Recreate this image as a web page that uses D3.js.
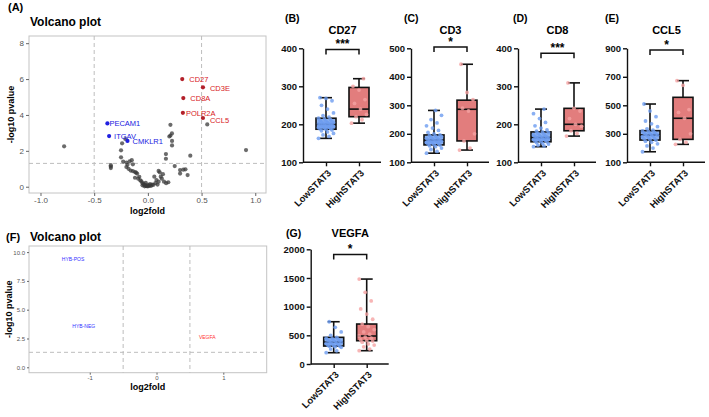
<!DOCTYPE html>
<html><head><meta charset="utf-8">
<script src="https://cdn.jsdelivr.net/npm/d3@7"></script>
<style>body{margin:0;background:#fff} text{font-family:"Liberation Sans",Arial,sans-serif}</style>
</head><body><svg id="c" width="709" height="417"></svg>
<script>
// ---------------- DATA ----------------
// Volcano (A): highlighted genes
const upGenes = ["CD27","CD3E","CD8A","POLR2A","CCL5"];
const upFC    = [0.32, 0.513, 0.33, 0.326, 0.513];
const upP     = [6.0, 5.54, 4.94, 4.12, 3.83];
const downGenes = ["PECAM1","ITGAV","CMKLR1"];
const downFC    = [-0.377, -0.361, -0.19];
const downP     = [3.53, 2.82, 2.55];
// grey (unlabeled) genes: [log2fold, -log10 p]
const greyGenes = [
 [-0.78,2.25],[0.553,3.47],[0.914,2.04],
 [0.21,3.45],[0.224,2.97],[0.21,2.85],[0.2,2.8],[0.225,2.55],[0.225,2.3],[0.168,1.82],[0.168,1.56],
 [0.25,1.15],[0.30,0.93],[0.30,0.73],[0.395,1.73],[0.35,0.97],[0.33,0.95],[0.37,0.65],
 [-0.24,2.42],[-0.25,2.03],[-0.25,1.64],[-0.345,1.2],[-0.345,1.12],[-0.345,1.04],[-0.21,2.66],
 [-0.23,1.4],[-0.2,1.35],[-0.19,1.22],[-0.17,1.42],[-0.15,1.48],[-0.14,1.25],[-0.14,0.87],
 [-0.12,0.82],[-0.11,0.78],[-0.1,0.73],[-0.16,0.9],[-0.2,1.1],[-0.18,1.0],[-0.08,0.55],
 [-0.09,0.45],[-0.07,0.35],[-0.06,0.3],[-0.05,0.2],[-0.04,0.15],[-0.03,0.1],[-0.02,0.05],
 [-0.01,0.03],[0,0.02],[0.01,0.04],[0.02,0.08],[0.03,0.05],[0.04,0.12],[0.05,0.1],[-0.05,0.08],
 [-0.03,0.02],[0.0,0.1],[0.02,0.15],[-0.02,0.22],[0.06,0.56],[0.08,0.37],[0.1,0.88],[0.11,0.8],
 [0.12,0.56],[0.1,0.28],[0.15,0.28],[0.17,0.2],[0.13,0.45],[0.14,0.7],[0.07,0.2],[0.09,0.12],
 [-0.12,0.5],[0.19,0.25]
];
const volcAxTicksX = [-1.0,-0.5,0.0,0.5,1.0];
const volcAxTicksY = [0,2,4,6,8];

// Volcano (F)
const fGenes = ["HYB-POS","HYB-NEG","VEGFA"];
const fFC    = [-1.25, -1.09, 0.76];
const fP     = [9.4, 3.6, 2.57];
const fDir   = ["down","down","up"];
const volcFTicksX = [-1,0,1];
const volcFTicksY = [0,2.5,5,7.5,10];

// Box plots
const groups = ["LowSTAT3","HighSTAT3"];
const boxGenes = ["CD27","CD3","CD8","CCL5","VEGFA"];
const boxTags  = ["(B)","(C)","(D)","(E)","(G)"];
const sigStars = ["***","*","***","*","*"];
const bracketVals = [397, 505, 387, 888, 1911];
const ticksCD27 = [100,200,300,400];
const ticksCD3  = [100,200,300,400,500];
const ticksCD8  = [100,200,300,400];
const ticksCCL5 = [100,300,500,700,900];
const ticksVEGFA= [0,500,1000,1500,2000];
// [min, q1, median, q3, max] per group (Low, High)
const statsCD27 = [[163,187,200,216,270],[203,220,240,297,320]];
const statsCD3  = [[132,161,178,196,282],[143,175,286,318,444]];
const statsCD8  = [[141,154,165,180,240],[169,183,200,242,309]];
const statsCCL5 = [[174,256,292,322,509],[226,261,409,556,673]];
const statsVEGFA= [[197,313,380,465,737],[232,406,488,697,1481]];
// individual samples
const ptsCD27 = [
 [163,168,172,176,180,183,185,187,188,189,190,191,192,193,194,195,196,197,198,199,200,200,201,202,203,204,205,206,207,208,210,212,214,216,219,223,230,240,250,262,268,270],
 [203,212,220,226,240,255,265,290,300,320]];
const ptsCD3 = [
 [132,138,145,150,155,158,160,162,164,166,168,170,171,172,174,175,176,177,178,179,180,182,184,186,188,190,192,194,196,200,205,212,220,228,238,250,265,282],
 [143,150,175,200,280,290,320,345,444]];
const ptsCD8 = [
 [141,143,145,148,150,152,154,155,156,158,159,160,161,162,163,164,165,166,167,168,169,170,172,174,176,178,180,182,185,190,196,205,215,228,240],
 [169,176,183,195,200,215,235,242,309]];
const ptsCCL5 = [
 [174,200,215,230,240,248,255,260,265,270,275,280,285,288,290,292,295,298,300,305,310,315,320,325,335,350,370,390,420,460,509],
 [226,240,261,300,409,450,470,640,673]];
const ptsVEGFA = [
 [197,230,260,290,300,310,315,320,330,340,350,360,370,375,380,385,390,400,410,420,430,440,450,465,500,560,640,737],
 [232,260,300,330,350,380,400,406,420,450,470,488,520,560,600,650,697,780,870,960,1100,1250,1481]];

// ---------------- DRAW ----------------
const svg = d3.select("#c");
svg.append("rect").attr("width",709).attr("height",417).attr("fill","#fff");
const RED="#d7191c", BLUE="#2020e0";

function volcano(o){
  const g = svg.append("g");
  const x = d3.scaleLinear().domain(o.xd).range([o.x0,o.x1]);
  const y = d3.scaleLinear().domain(o.yd).range([o.y1,o.y0]);
  g.append("rect").attr("x",o.x0).attr("y",o.y0).attr("width",o.x1-o.x0).attr("height",o.y1-o.y0)
   .attr("fill","none").attr("stroke","#c4c4c4").attr("stroke-width",1);
  const dash = (x1,y1,x2,y2)=>g.append("line").attr("x1",x1).attr("y1",y1).attr("x2",x2).attr("y2",y2)
   .attr("stroke","#bdbdbd").attr("stroke-width",1).attr("stroke-dasharray","4,3");
  dash(x(-0.5),o.y0,x(-0.5),o.y1); dash(x(0.5),o.y0,x(0.5),o.y1); dash(o.x0,y(1.3),o.x1,y(1.3));
  const ax = g.append("g").attr("transform",`translate(0,${o.y1})`)
    .call(d3.axisBottom(x).tickValues(o.tx).tickSize(o.tks).tickPadding(1.5).tickFormat(o.fx));
  const ay = g.append("g").attr("transform",`translate(${o.x0},0)`)
    .call(d3.axisLeft(y).tickValues(o.ty).tickSize(o.tks).tickPadding(2).tickFormat(o.fy));
  [ax,ay].forEach(a=>{a.select(".domain").remove();
    a.selectAll("line").attr("stroke","#666");
    a.selectAll("text").attr("fill","#555").style("font-size",o.tfs+"px").style("font-family","Liberation Sans, Arial");});
  g.append("text").attr("x",(o.x0+o.x1)/2).attr("y",o.xlabY).attr("text-anchor","middle")
   .style("font-weight","bold").style("font-size",o.lfs+"px").text("log2fold");
  g.append("text").attr("transform",`translate(${o.ylabX},${(o.y0+o.y1)/2}) rotate(-90)`).attr("text-anchor","middle")
   .style("font-weight","bold").style("font-size",o.lfs+"px").text("-log10 pvalue");
  g.append("text").attr("x",o.titleX).attr("y",o.titleY).style("font-weight","bold").style("font-size","12px").text("Volcano plot");
  g.append("text").attr("x",o.tagX).attr("y",o.titleY-o.tagDy).style("font-weight","bold").style("font-size","11px").text(o.tag);
  return {g,x,y};
}

// Panel A
const A = volcano({x0:29,x1:266,y0:36,y1:193,xd:[-1.107,1.10],yd:[-0.35,8.4],
  tx:volcAxTicksX,ty:volcAxTicksY,fx:d=>d.toFixed(1),fy:d=>d,tfs:8,tks:3,lfs:9,xlabY:214,ylabX:14,
  titleX:30,titleY:26,tagX:8,tagDy:15,tag:"(A)"});
A.g.selectAll(".grey").data(greyGenes).join("circle")
  .attr("cx",d=>A.x(d[0])).attr("cy",d=>A.y(d[1])).attr("r",2.1).attr("fill","#3a3a3a").attr("fill-opacity",0.75);
const upLab = [[7,1],[7,1],[7,1],[3,1],[7,3]];
upGenes.forEach((gname,i)=>{
  A.g.append("circle").attr("cx",A.x(upFC[i])).attr("cy",A.y(upP[i])).attr("r",2.1).attr("fill","#b3202a");
  A.g.append("text").attr("x",A.x(upFC[i])+upLab[i][0]).attr("y",A.y(upP[i])+upLab[i][1]).attr("dy","0.32em")
   .attr("fill",RED).style("font-size","7.5px").text(gname);
});
const dnLab = [[2,0],[5,0],[5,1]];
downGenes.forEach((gname,i)=>{
  A.g.append("circle").attr("cx",A.x(downFC[i])).attr("cy",A.y(downP[i])).attr("r",2.1).attr("fill",BLUE);
  A.g.append("text").attr("x",A.x(downFC[i])+dnLab[i][0]).attr("y",A.y(downP[i])+dnLab[i][1]).attr("dy","0.32em")
   .attr("fill",BLUE).style("font-size","7.5px").text(gname);
});

// Panel F
const F = volcano({x0:29,x1:266.7,y0:246,y1:372.7,xd:[-1.91,1.65],yd:[-0.47,10.53],
  tx:volcFTicksX,ty:volcFTicksY,fx:d=>d,fy:d=>d.toFixed(1),tfs:6,tks:2,lfs:9,xlabY:390,ylabX:12,
  titleX:30,titleY:241,tagX:6,tagDy:0,tag:"(F)"});
fGenes.forEach((gname,i)=>{
  F.g.append("text").attr("x",F.x(fFC[i])).attr("y",F.y(fP[i])).attr("dy","0.35em").attr("text-anchor","middle")
   .attr("fill",fDir[i]==="up"?"#ff3030":"#3030ff").style("font-size","5px").text(gname);
});

// Box panels
const boxLayout = [
  {axisX:303, top:48.3, bottom:162.3, tagX:285, tagY:22, titleY:34},
  {axisX:411, top:48.3, bottom:162.3, tagX:404, tagY:22, titleY:34},
  {axisX:518, top:48.3, bottom:162.3, tagX:513, tagY:22, titleY:34},
  {axisX:627, top:48.3, bottom:162.3, tagX:605, tagY:22, titleY:34},
  {axisX:310.7, top:249.3, bottom:364, tagX:286, tagY:237, titleY:237}
];
const allTicks = [ticksCD27,ticksCD3,ticksCD8,ticksCCL5,ticksVEGFA];
const allStats = [statsCD27,statsCD3,statsCD8,statsCCL5,statsVEGFA];
const allPts   = [ptsCD27,ptsCD3,ptsCD8,ptsCCL5,ptsVEGFA];
const fills = ["#8fb3ee","#e27d7d"], ptCols = ["#6d9cf0","#f5a3a3"];

boxGenes.forEach((gene,k)=>{
  const L = boxLayout[k], t = allTicks[k];
  const g = svg.append("g");
  const y = d3.scaleLinear().domain([t[0],t[t.length-1]]).range([L.bottom,L.top]);
  const x = d3.scalePoint().domain(groups).range([L.axisX+23,L.axisX+56]);
  const ay = g.append("g").attr("transform",`translate(${L.axisX},0)`)
    .call(d3.axisLeft(y).tickValues(t).tickSize(4).tickSizeOuter(0).tickFormat(d=>String(d)));
  const ax = g.append("g").attr("transform",`translate(0,${L.bottom})`).call(d3.axisBottom(x).tickSize(4).tickSizeOuter(0));
  ax.select(".domain").attr("d",`M${L.axisX},0H${L.axisX+78}`);
  [ax,ay].forEach(a=>{a.selectAll("path,line").attr("stroke","#111").attr("stroke-width",1.4);
    a.selectAll("text").attr("fill","#111").style("font-size","9.5px").style("font-weight","bold").style("font-family","Liberation Sans, Arial");});
  ay.selectAll("text").attr("x",-6);
  ax.selectAll("text").attr("text-anchor","end").attr("dy","0.35em").attr("y",0)
    .attr("transform","translate(3,9) rotate(-45)");
  const bw = 20, cw = 12;
  groups.forEach((grp,i)=>{
    const s = allStats[k][i], cx = x(grp);
    g.append("line").attr("x1",cx).attr("x2",cx).attr("y1",y(s[0])).attr("y2",y(s[4])).attr("stroke","#111").attr("stroke-width",1.6);
    g.append("rect").attr("x",cx-bw/2).attr("width",bw).attr("y",y(s[3])).attr("height",y(s[1])-y(s[3]))
      .attr("fill",fills[i]).attr("stroke","#111").attr("stroke-width",1.6);
    g.append("line").attr("x1",cx-bw/2).attr("x2",cx+bw/2).attr("y1",y(s[2])).attr("y2",y(s[2])).attr("stroke","#111").attr("stroke-width",1.6);
    [s[0],s[4]].forEach(v=>g.append("line").attr("x1",cx-cw/2).attr("x2",cx+cw/2).attr("y1",y(v)).attr("y2",y(v)).attr("stroke","#111").attr("stroke-width",1.6));
    g.selectAll(null).data(allPts[k][i]).join("circle")
      .attr("cx",(d,j)=>cx+(((j*7)%11)-5)*1.5).attr("cy",d=>y(d)).attr("r",1.9)
      .attr("fill",ptCols[i]).attr("fill-opacity",0.8);
  });
  const by = y(bracketVals[k]), x1 = x(groups[0]), x2 = x(groups[1]);
  g.append("path").attr("d",`M${x1},${by+5}V${by}H${x2}V${by+5}`).attr("fill","none").attr("stroke","#111").attr("stroke-width",1.5);
  g.append("text").attr("x",(x1+x2)/2).attr("y",by-1).attr("text-anchor","middle").style("font-size","12px").style("font-weight","bold").text(sigStars[k]);
  g.append("text").attr("x",(x1+x2)/2).attr("y",L.titleY).attr("text-anchor","middle").style("font-size","11px").style("font-weight","bold").text(gene);
  g.append("text").attr("x",L.tagX).attr("y",L.tagY).style("font-size","10.5px").style("font-weight","bold").text(boxTags[k]);
});
</script></body></html>
